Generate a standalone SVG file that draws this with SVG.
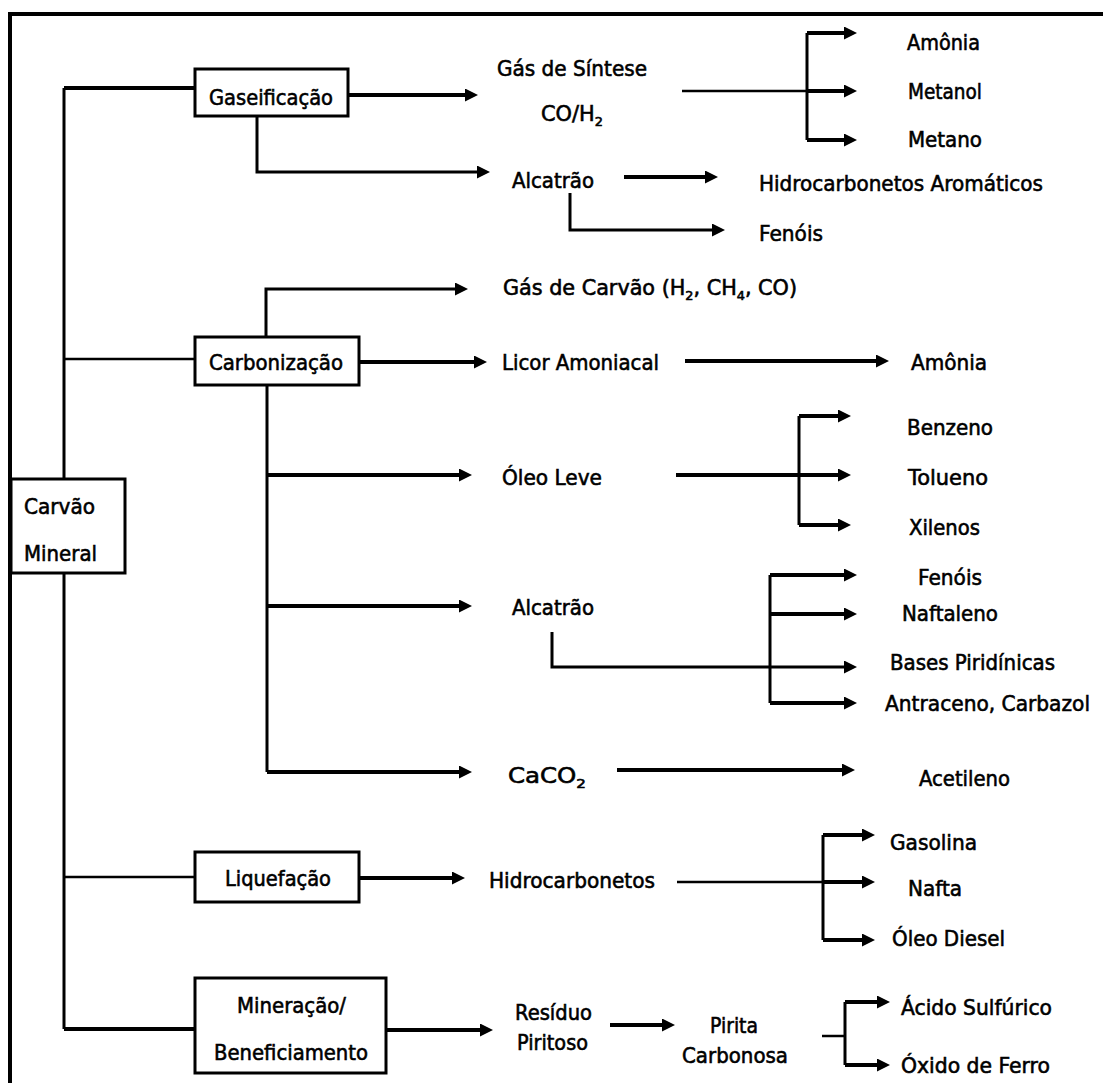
<svg xmlns="http://www.w3.org/2000/svg" width="1103" height="1083" viewBox="0 0 1103 1083">
  <style>
    .t { font-family: "DejaVu Sans", "Liberation Sans", sans-serif; font-size: 21px; fill: #000; stroke: #000; stroke-width: 0.6; }
    .sub { font-size: 13px; }
    .box { fill: #fff; stroke: #000; stroke-width: 3; }
    .w { fill: none; stroke: #000; stroke-width: 4; stroke-linejoin: miter; }
    .m { fill: none; stroke: #000; stroke-width: 3; }
    .n { fill: none; stroke: #000; stroke-width: 2.5; }
    .a { marker-end: url(#head); }
  </style>
  <defs>
    <marker id="head" viewBox="0 0 13 13" refX="3" refY="6.5" markerWidth="13" markerHeight="13" markerUnits="userSpaceOnUse" orient="auto">
      <path d="M0,0 L13,6.5 L0,13 z" fill="#000"/>
    </marker>
  </defs>
  <rect width="1103" height="1083" fill="#fff"/>

  <!-- frame -->
  <path class="w" d="M10,1083 V14 H1103"/>

  <g id="connectors">
    <!-- trunk from the raw coal -->
    <path class="m" d="M64,88 V1029"/>
    <path class="w" d="M64,88 H195"/>
    <path class="n" d="M64,359 H195"/>
    <path class="n" d="M64,877 H195"/>
    <path class="w" d="M64,1029 H195"/>

    <!-- gasification -->
    <path class="w a" d="M348,95 H468"/>
    <path class="m a" d="M257,116 V172 H480"/>
    <path class="n" d="M682,91 H807"/>
    <path class="m" d="M807,33 V140"/>
    <path class="w a" d="M807,33 H847"/>
    <path class="w a" d="M807,91 H847"/>
    <path class="w a" d="M807,140 H847"/>
    <path class="w a" d="M624,177 H708"/>
    <path class="m a" d="M570,193 V230 H715"/>

    <!-- carbonization -->
    <path class="m a" d="M266,337 V289 H458"/>
    <path class="w a" d="M359,362 H477"/>
    <path class="m" d="M267,385 V772"/>
    <path class="w a" d="M267,475 H462"/>
    <path class="w a" d="M267,606 H462"/>
    <path class="w a" d="M267,772 H462"/>
    <path class="w a" d="M685,361 H879"/>
    <path class="w" d="M676,475 H799"/>
    <path class="m" d="M799,416 V525"/>
    <path class="w a" d="M799,416 H841"/>
    <path class="w a" d="M799,475 H841"/>
    <path class="w a" d="M799,525 H841"/>
    <path class="m" d="M770,575 V703"/>
    <path class="w a" d="M770,575 H847"/>
    <path class="w a" d="M770,614 H847"/>
    <path class="w a" d="M770,703 H847"/>
    <path class="m a" d="M552,632 V667 H847"/>
    <path class="w a" d="M617,770 H845"/>

    <!-- liquefaction -->
    <path class="w a" d="M359,878 H455"/>
    <path class="n" d="M677,882 H823"/>
    <path class="m" d="M823,835 V940"/>
    <path class="w a" d="M823,835 H865"/>
    <path class="w a" d="M823,882 H865"/>
    <path class="w a" d="M823,940 H865"/>

    <!-- mining / beneficiation -->
    <path class="w a" d="M386,1030 H483"/>
    <path class="w a" d="M610,1025 H665"/>
    <path class="n" d="M822,1036 H845"/>
    <path class="m" d="M845,1002 V1065"/>
    <path class="w a" d="M845,1002 H880"/>
    <path class="w a" d="M845,1065 H880"/>
  </g>

  <g id="carvao-mineral">
    <rect class="box" x="11" y="479" width="114" height="94"/>
    <text class="t" x="24" y="514" textLength="71" lengthAdjust="spacingAndGlyphs">Carvão</text>
    <text class="t" x="24" y="561" textLength="73" lengthAdjust="spacingAndGlyphs">Mineral</text>
  </g>

  <g id="gaseificacao">
    <rect class="box" x="195" y="69" width="153" height="47"/>
    <text class="t" x="209" y="105" textLength="124" lengthAdjust="spacingAndGlyphs">Gaseificação</text>
  </g>
  <g id="gas-sintese">
    <text class="t" x="497" y="76" textLength="150" lengthAdjust="spacingAndGlyphs">Gás de Síntese</text>
    <text class="t" x="541" y="121" textLength="62" lengthAdjust="spacingAndGlyphs">CO/H<tspan class="sub" dy="5">2</tspan></text>
  </g>
  <g id="amonia-1"><text class="t" x="907" y="50" textLength="73" lengthAdjust="spacingAndGlyphs">Amônia</text></g>
  <g id="metanol"><text class="t" x="908" y="99" textLength="74" lengthAdjust="spacingAndGlyphs">Metanol</text></g>
  <g id="metano"><text class="t" x="908" y="147" textLength="74" lengthAdjust="spacingAndGlyphs">Metano</text></g>
  <g id="alcatrao-1"><text class="t" x="512" y="188" textLength="82" lengthAdjust="spacingAndGlyphs">Alcatrão</text></g>
  <g id="hidrocarbonetos-aromaticos"><text class="t" x="759" y="191" textLength="284" lengthAdjust="spacingAndGlyphs">Hidrocarbonetos Aromáticos</text></g>
  <g id="fenois-1"><text class="t" x="759" y="241" textLength="64" lengthAdjust="spacingAndGlyphs">Fenóis</text></g>

  <g id="carbonizacao">
    <rect class="box" x="195" y="337" width="164" height="48"/>
    <text class="t" x="209" y="370" textLength="134" lengthAdjust="spacingAndGlyphs">Carbonização</text>
  </g>
  <g id="gas-carvao"><text class="t" x="503" y="295" textLength="294" lengthAdjust="spacingAndGlyphs">Gás de Carvão (H<tspan class="sub" dy="5">2</tspan><tspan dy="-5">, CH</tspan><tspan class="sub" dy="5">4</tspan><tspan dy="-5">, CO)</tspan></text></g>
  <g id="licor-amoniacal"><text class="t" x="502" y="370" textLength="157" lengthAdjust="spacingAndGlyphs">Licor Amoniacal</text></g>
  <g id="amonia-2"><text class="t" x="911" y="370" textLength="76" lengthAdjust="spacingAndGlyphs">Amônia</text></g>
  <g id="oleo-leve"><text class="t" x="502" y="485" textLength="100" lengthAdjust="spacingAndGlyphs">Óleo Leve</text></g>
  <g id="benzeno"><text class="t" x="907" y="435" textLength="86" lengthAdjust="spacingAndGlyphs">Benzeno</text></g>
  <g id="tolueno"><text class="t" x="908" y="485" textLength="80" lengthAdjust="spacingAndGlyphs">Tolueno</text></g>
  <g id="xilenos"><text class="t" x="909" y="535" textLength="71" lengthAdjust="spacingAndGlyphs">Xilenos</text></g>
  <g id="alcatrao-2"><text class="t" x="512" y="615" textLength="82" lengthAdjust="spacingAndGlyphs">Alcatrão</text></g>
  <g id="fenois-2"><text class="t" x="918" y="585" textLength="64" lengthAdjust="spacingAndGlyphs">Fenóis</text></g>
  <g id="naftaleno"><text class="t" x="902" y="621" textLength="96" lengthAdjust="spacingAndGlyphs">Naftaleno</text></g>
  <g id="bases-piridinicas"><text class="t" x="890" y="670" textLength="165" lengthAdjust="spacingAndGlyphs">Bases Piridínicas</text></g>
  <g id="antraceno-carbazol"><text class="t" x="885" y="711" textLength="205" lengthAdjust="spacingAndGlyphs">Antraceno, Carbazol</text></g>
  <g id="caco2"><text class="t" x="508" y="783" textLength="78" lengthAdjust="spacingAndGlyphs">CaCO<tspan class="sub" dy="5">2</tspan></text></g>
  <g id="acetileno"><text class="t" x="919" y="786" textLength="91" lengthAdjust="spacingAndGlyphs">Acetileno</text></g>

  <g id="liquefacao">
    <rect class="box" x="195" y="852" width="164" height="50"/>
    <text class="t" x="225" y="886" textLength="106" lengthAdjust="spacingAndGlyphs">Liquefação</text>
  </g>
  <g id="hidrocarbonetos"><text class="t" x="489" y="888" textLength="166" lengthAdjust="spacingAndGlyphs">Hidrocarbonetos</text></g>
  <g id="gasolina"><text class="t" x="890" y="850" textLength="87" lengthAdjust="spacingAndGlyphs">Gasolina</text></g>
  <g id="nafta"><text class="t" x="908" y="896" textLength="54" lengthAdjust="spacingAndGlyphs">Nafta</text></g>
  <g id="oleo-diesel"><text class="t" x="892" y="946" textLength="113" lengthAdjust="spacingAndGlyphs">Óleo Diesel</text></g>

  <g id="mineracao-beneficiamento">
    <rect class="box" x="195" y="978" width="191" height="95"/>
    <text class="t" x="237" y="1013" textLength="109" lengthAdjust="spacingAndGlyphs">Mineração/</text>
    <text class="t" x="214" y="1060" textLength="154" lengthAdjust="spacingAndGlyphs">Beneficiamento</text>
  </g>
  <g id="residuo-piritoso">
    <text class="t" x="515" y="1020" textLength="77" lengthAdjust="spacingAndGlyphs">Resíduo</text>
    <text class="t" x="517" y="1050" textLength="71" lengthAdjust="spacingAndGlyphs">Piritoso</text>
  </g>
  <g id="pirita-carbonosa">
    <text class="t" x="710" y="1033" textLength="48" lengthAdjust="spacingAndGlyphs">Pirita</text>
    <text class="t" x="682" y="1063" textLength="106" lengthAdjust="spacingAndGlyphs">Carbonosa</text>
  </g>
  <g id="acido-sulfurico"><text class="t" x="901" y="1015" textLength="151" lengthAdjust="spacingAndGlyphs">Ácido Sulfúrico</text></g>
  <g id="oxido-ferro"><text class="t" x="901" y="1073" textLength="149" lengthAdjust="spacingAndGlyphs">Óxido de Ferro</text></g>
</svg>
